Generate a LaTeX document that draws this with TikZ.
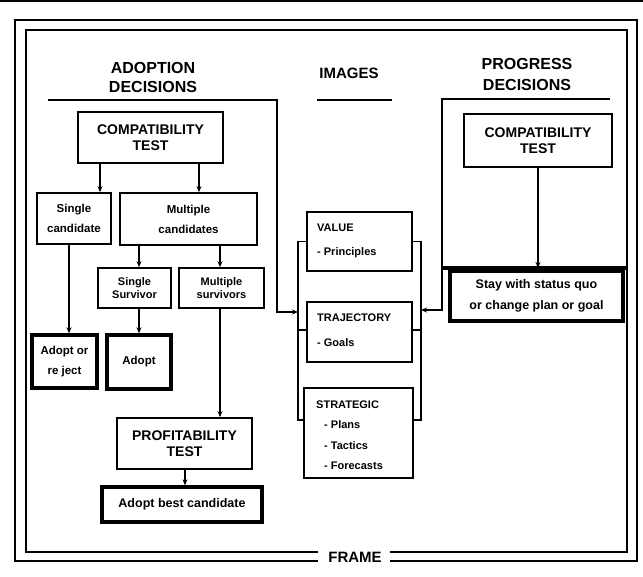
\documentclass[tikz,border=0pt]{standalone}
\usepackage{fontspec}
\setmainfont{Liberation Sans}
\usetikzlibrary{arrows.meta}
\newcommand\myfs[2]{\fontsize{#1}{#2}\selectfont\bfseries}
\begin{document}
\begin{tikzpicture}[x=1pt,y=-1pt,
  ln/.style={line width=1.6pt},
  fr/.style={line width=1.8pt},
  arr/.style={line width=1.6pt,-{Stealth[length=6pt,width=5pt]}},
  box/.style={draw,line width=1.7pt,inner sep=0pt,align=center},
  tbox/.style={box,line width=3.4pt},
  head/.style={inner sep=0pt,align=center,font=\myfs{16}{19}},
  big/.style={font=\myfs{14}{16}},
  sm/.style={font=\myfs{11.5}{20}},
  xs/.style={font=\myfs{11}{13}},
  img/.style={inner sep=0pt,anchor=west,font=\myfs{11}{12}}
]
\useasboundingbox (0,0) rectangle (643,577);
% stray top line
\draw[line width=2pt] (0,1) -- (643,1);
% frame
\draw[fr] (318,561) -- (15,561) -- (15,20) -- (637,20) -- (637,561) -- (390,561);
\draw[fr] (318,552) -- (26,552) -- (26,30) -- (627,30) -- (627,552) -- (390,552);
\node[inner sep=0pt,font=\myfs{15}{16}] (frame) at (355,557) {FRAME};

% headings
\node[head] (hadopt) at (153,77) {ADOPTION\\DECISIONS};
\node[head,font=\myfs{16}{21}] (hprog) at (527,74) {PROGRESS\\DECISIONS};
\node[head,font=\myfs{15}{16}] (himg) at (349,73.5) {IMAGES};
\draw[ln] (317,100) -- (392,100);

% adoption decisions
\node[box,big,minimum width=145,minimum height=51] (acompat) at (150.5,137.5) {COMPATIBILITY\\TEST};
\node[box,sm,minimum width=74,minimum height=51] (single) at (74,218.5) {Single\\candidate};
\node[box,sm,minimum width=137,minimum height=52] (multi) at (188.5,219) {Multiple\\candidates};
\node[box,xs,minimum width=73,minimum height=40] (ssurv) at (134.5,288) {Single\\Survivor};
\node[box,xs,minimum width=85,minimum height=40] (msurv) at (221.5,288) {Multiple\\survivors};
\node[tbox,sm,minimum width=65,minimum height=53] (adoptrej) at (64.5,361.5) {Adopt or\\re ject};
\node[tbox,sm,minimum width=64,minimum height=54] (adopt) at (139,362) {Adopt};
\node[box,big,minimum width=135,minimum height=51] (profit) at (184.5,443.5) {PROFITABILITY\\TEST};
\node[tbox,font=\myfs{12.5}{14},minimum width=160,minimum height=35] (best) at (182,504.5) {Adopt best candidate};

\draw[arr] (acompat.south -| 100,0) -- (single.north -| 100,0);
\draw[arr] (acompat.south -| 199,0) -- (multi.north -| 199,0);
\draw[arr] (single.south -| 69,0) -- (adoptrej.north -| 69,0);
\draw[arr] (multi.south -| 139,0) -- (ssurv.north -| 139,0);
\draw[arr] (multi.south -| 220,0) -- (msurv.north -| 220,0);
\draw[arr] (ssurv.south -| 139,0) -- (adopt.north -| 139,0);
\draw[arr] (msurv.south -| 220,0) -- (profit.north -| 220,0);
\draw[arr] (profit.south -| 185,0) -- (best.north -| 185,0);

% images
\node[box,minimum width=105,minimum height=59] (value) at (359.5,241.5) {};
\node[img] (valuet) at (317,228) {VALUE};
\node[img] (valuep) at (317,253) {- Principles};
\node[box,minimum width=105,minimum height=60] (traj) at (359.5,332) {};
\node[img] (trajt) at (317,318) {TRAJECTORY};
\node[img] (trajg) at (317,343) {- Goals};
\node[box,minimum width=109,minimum height=90] (strat) at (358.5,433) {};
\node[img] (stratt) at (316,405) {STRATEGIC};
\node[img] (stratp) at (324,425) {- Plans};
\node[img] (stratta) at (324,446) {- Tactics};
\node[img] (stratf) at (324,466) {- Forecasts};

% brackets
\draw[ln] (value.west) -| (298,420) -- (strat.west |- 0,420);
\draw[ln] (traj.west |- 0,330) -- (298,330);
\draw[ln] (value.east) -| (421,420) -- (strat.east |- 0,420);
\draw[ln] (traj.east |- 0,330) -- (421,330);
\coordinate (lin) at (298,312);
\coordinate (rin) at (421,310);

% adoption -> images
\coordinate (aline) at (48,100);
\draw[arr] (aline) -- (277,100) -- (277,312) -- (lin);

% progress decisions
\node[box,big,minimum width=148,minimum height=53] (pcompat) at (538,140.5) {COMPATIBILITY\\TEST};
\coordinate (pline) at (610,99);
\draw[arr] (pline) -- (442,99) -- (442,310) -- (rin);
\coordinate (sl) at (442,268);
\coordinate (sr) at (627,268);
\draw[line width=3.4pt] (sl) -- (sr);
\node[tbox,font=\myfs{12.5}{21},minimum width=173,minimum height=50] (stay) at (536.5,296) {Stay with status quo\\or change plan or goal};
\draw[arr] (pcompat.south) -- (pcompat.south |- sl);
\end{tikzpicture}
\end{document}
